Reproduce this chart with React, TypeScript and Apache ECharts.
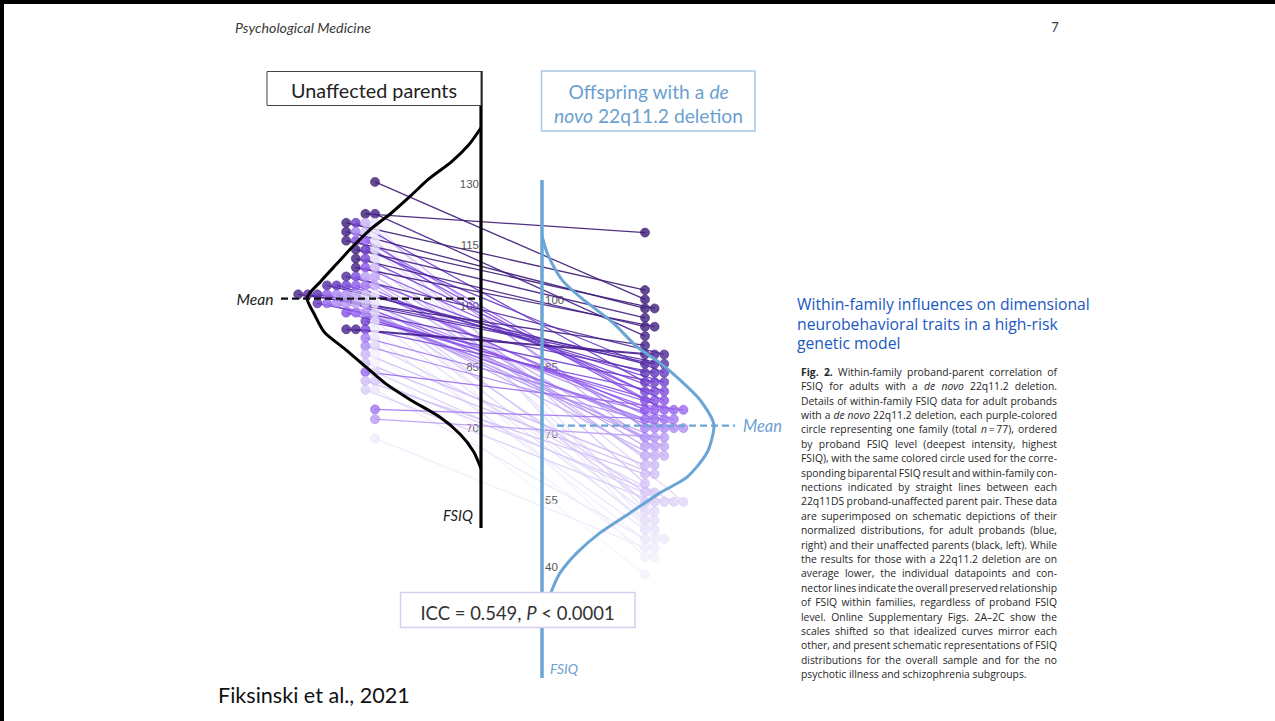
import React, { useEffect, useRef } from "react";
import * as echarts from "echarts";

// ---------------- Data ----------------
// One entry per family (n = 77), ordered by proband FSIQ, highest first.
const probandFsiq = [
  117.0,
  103.5,
  101.3,
  99.2, 99.2,
  97.0,
  94.9, 94.9,
  92.7,
  90.5,
  88.4, 88.4, 88.4,
  86.2, 86.2, 86.2,
  84.1, 84.1, 84.1,
  81.9, 81.9, 81.9,
  79.7, 79.7, 79.7,
  77.6, 77.6, 77.6,
  75.4, 75.4, 75.4, 75.4, 75.4,
  73.2, 73.2, 73.2, 73.2,
  71.1, 71.1, 71.1, 71.1, 71.1,
  68.9, 68.9, 68.9,
  66.8, 66.8, 66.8,
  64.6, 64.6, 64.6,
  62.4, 62.4,
  60.3, 60.3,
  58.1,
  56.0, 56.0,
  53.8, 53.8, 53.8, 53.8, 53.8,
  51.6, 51.6,
  49.5, 49.5,
  47.3, 47.3,
  45.1, 45.1, 45.1,
  43.0, 43.0,
  40.8, 40.8,
  36.7,
];

// Biparental FSIQ of the same families, same order.
const parentFsiq = [
  121.4, 119.3, 128.9, 117.2, 115.1, 113.0, 110.9, 108.8, 121.4, 102.5,
  94.3, 94.3, 106.7, 104.6, 102.5, 102.5, 104.6, 100.4, 113.0, 119.3,
  96.2, 104.6, 110.9, 94.3, 106.7, 115.1, 98.2, 108.8, 104.6, 102.5,
  115.1, 100.4, 84.3, 98.2, 104.6, 75.5, 92.3, 117.2, 102.5, 100.4,
  90.4, 102.5, 98.2, 100.4, 73.2, 106.7, 106.7, 102.5, 104.6, 100.4,
  119.3, 88.5, 108.8, 82.2, 86.4, 117.2, 100.4, 82.2, 102.5, 80.1,
  84.3, 90.4, 113.0, 98.2, 110.9, 96.2, 119.3, 92.3, 115.1, 80.1,
  117.2, 100.4, 68.7, 94.3, 102.5, 88.5, 86.4,
];

// Schematic distribution curves: FSIQ level and relative height (peak = 1)
const parentCurveFsiq = [141.6, 137.6, 133.6, 129.6, 125.6, 121.6, 117.6, 113.6, 109.6, 105.6, 101.6, 97.6, 93.6, 89.6, 85.6, 81.6, 77.6, 73.6, 69.6, 65.6, 61.6];
const parentCurveHeight = [0, 0.07, 0.17, 0.3, 0.405, 0.515, 0.64, 0.74, 0.83, 0.92, 1, 0.955, 0.9, 0.78, 0.665, 0.55, 0.4, 0.233, 0.118, 0.043, 0];
const probandCurveFsiq = [116.2, 111.7, 105.9, 101.9, 95.8, 90.2, 86.4, 82.4, 77.7, 71.6, 65.3, 59.6, 55.9, 51.2, 46.5, 41.8, 37.1, 33.1, 28.4];
const probandCurveHeight = [0, 0.035, 0.116, 0.221, 0.413, 0.552, 0.686, 0.802, 0.919, 1, 0.959, 0.843, 0.686, 0.512, 0.337, 0.203, 0.105, 0.058, 0.017];

const parentMean = 101.5;
const probandMean = 71.7;

const parentTicks = [130, 115, 100, 85, 70];
const probandTicks = [100, 85, 70, 55, 40];

const headingLines = [
  "Within-family influences on dimensional",
  "neurobehavioral traits in a high-risk",
  "genetic model",
];

// *bold*, _italic_
const captionLines = [
  "*Fig.* *2.* Within-family proband-parent correlation of",
  "FSIQ for adults with a _de_ _novo_ 22q11.2 deletion.",
  "Details of within-family FSIQ data for adult probands",
  "with a _de_ _novo_ 22q11.2 deletion, each purple-colored",
  "circle representing one family (total _n_\u2009=\u200977), ordered",
  "by proband FSIQ level (deepest intensity, highest",
  "FSIQ), with the same colored circle used for the corre-",
  "sponding biparental FSIQ result and within-family con-",
  "nections indicated by straight lines between each",
  "22q11DS proband-unaffected parent pair. These data",
  "are superimposed on schematic depictions of their",
  "normalized distributions, for adult probands (blue,",
  "right) and their unaffected parents (black, left). While",
  "the results for those with a 22q11.2 deletion are on",
  "average lower, the individual datapoints and con-",
  "nector lines indicate the overall preserved relationship",
  "of FSIQ within families, regardless of proband FSIQ",
  "level. Online Supplementary Figs. 2A\u20132C show the",
  "scales shifted so that idealized curves mirror each",
  "other, and present schematic representations of FSIQ",
  "distributions for the overall sample and for the no",
  "psychotic illness and schizophrenia subgroups.",
];

// ---------------- Layout ----------------
const W = 1275;
const H = 721;
const Y85 = 368.9; // pixel row of FSIQ 85
const PX_PER_PT = 4.26;
const Y_MIN = 3;
const Y_MAX = 165;
const yPx = (v: number) => Y85 - PX_PER_PT * (v - 85);
const fsiqAt = (py: number) => 85 + (Y85 - py) / PX_PER_PT;

const COL_PX = 9.6;
const PARENT_COL = 375;
const PROBAND_COL = 645;
const PARENT_AXIS = 481;
const PROBAND_AXIS = 542;
const col = (px: number) => (px - PARENT_COL) / COL_PX;
const PARENT_CURVE_PX = 174;
const PROBAND_CURVE_PX = 172;

// tick label scales
const yLeft = (v: number) => 184 + (130 - v) * (244 / 60);
const yRight = (v: number) => 300 + (100 - v) * (267 / 60);

const BLUE = "#6aa5d5";
const BLUE_TEXT = "#6c9fd0";
const RAMP = ["#3a1a72", "#45208a", "#6a3acb", "#9158ee", "#a985f2", "#c3a9f5", "#d8cbf7", "#e8e2f9", "#f6f3fc"];

// ---------------- Text helpers ----------------
let measureCtx: CanvasRenderingContext2D | null = null;
function measure(text: string, size: number, family: string, style = "normal", weight = "normal") {
  if (!measureCtx) measureCtx = document.createElement("canvas").getContext("2d");
  measureCtx!.font = `${style} ${weight} ${size}px "${family}"`;
  return measureCtx!.measureText(text).width;
}
const fit = (text: string, family: string, width: number, style = "normal", weight = "normal") =>
  (100 * width) / measure(text, 100, family, style, weight);

type Seg = { t: string; s: "r" | "i" | "b" };
function parseLine(line: string): Seg[][] {
  return line.split(" ").map((word) => {
    const segs: Seg[] = [];
    const re = /_([^_]+)_|\*([^*]+)\*|([^_*]+)/g;
    let m: RegExpExecArray | null;
    while ((m = re.exec(word))) {
      if (m[1]) segs.push({ t: m[1], s: "i" });
      else if (m[2]) segs.push({ t: m[2], s: "b" });
      else segs.push({ t: m[3], s: "r" });
    }
    return segs;
  });
}

function richStyles(size: number, family: string, color: string) {
  const base = { fontSize: size, fontFamily: family, fill: color, color };
  return {
    r: { ...base },
    i: { ...base, fontStyle: "italic" },
    b: { ...base, fontWeight: "bold" },
  };
}

function label(x: number, y: number, text: string, o: any) {
  const align = o.align || "left";
  return {
    type: "text",
    x,
    y,
    z: o.z ?? 50,
    silent: true,
    style: {
      text,
      fill: o.color || "#222",
      fontSize: o.size,
      fontFamily: o.family,
      fontStyle: o.style || "normal",
      fontWeight: o.weight || "normal",
      align,
      textAlign: align,
      verticalAlign: "middle",
      textVerticalAlign: "middle",
      rich: o.rich,
    },
  };
}

function buildGraphic() {
  const g: any[] = [];

  // page frame
  g.push({ type: "line", z: 60, shape: { x1: 0, y1: 2, x2: W, y2: 2 }, style: { stroke: "#000", lineWidth: 4 } });
  g.push({ type: "line", z: 60, shape: { x1: 2, y1: 0, x2: 2, y2: H }, style: { stroke: "#000", lineWidth: 4 } });

  // running header
  const hdr = "Psychological Medicine";
  g.push(label(235, 27, hdr, { size: fit(hdr, "Lato", 136, "italic"), family: "Lato", style: "italic", color: "#3a3a3a" }));
  g.push(label(1055, 27, "7", { size: 13, family: "Lato", color: "#3a3a3a", align: "center" }));

  // panel titles
  g.push({ type: "rect", z: 40, shape: { x: 267, y: 71.5, width: 214, height: 34 }, style: { fill: "#fff", stroke: "#444", lineWidth: 1 } });
  const t1 = "Unaffected parents";
  g.push(label(374, 90, t1, { size: fit(t1, "Lato", 166), family: "Lato", color: "#222", align: "center", z: 41 }));

  g.push({ type: "rect", z: 40, shape: { x: 541.5, y: 71, width: 213.5, height: 60 }, style: { fill: "#fff", stroke: "#a8c8e6", lineWidth: 1.5 } });
  const offSize = fit("novo 22q11.2 deletion", "Lato", 192);
  const offRich = richStyles(offSize, "Lato", BLUE_TEXT);
  g.push(label(648.5, 91.5, "{r|Offspring with a }{i|de}", { size: offSize, family: "Lato", color: BLUE_TEXT, align: "center", rich: offRich, z: 41 }));
  g.push(label(648.5, 115.5, "{i|novo}{r| 22q11.2 deletion}", { size: offSize, family: "Lato", color: BLUE_TEXT, align: "center", rich: offRich, z: 41 }));

  // mean markers and axis names
  g.push(label(255, 299, "Mean", { size: fit("Mean", "Lato", 37, "italic"), family: "Lato", style: "italic", color: "#222", align: "center", z: 45 }));
  g.push(label(762.5, 425.7, "Mean", { size: fit("Mean", "Lato", 39, "italic"), family: "Lato", style: "italic", color: BLUE_TEXT, align: "center", z: 45 }));
  g.push(label(458, 515, "FSIQ", { size: fit("FSIQ", "Lato", 30, "italic"), family: "Lato", style: "italic", color: "#222", align: "center", z: 45 }));
  g.push(label(564, 668, "FSIQ", { size: fit("FSIQ", "Lato", 28, "italic"), family: "Lato", style: "italic", color: BLUE_TEXT, align: "center", z: 45 }));

  // ICC box
  g.push({ type: "rect", z: 100, shape: { x: 400.5, y: 592.5, width: 234.5, height: 35 }, style: { fill: "#fff", stroke: "#d9cdf2", lineWidth: 1.5 } });
  const iccSize = fit("ICC = 0.549, P < 0.0001", "Lato", 195);
  g.push(label(517.5, 612.5, "{r|ICC = 0.549, }{i|P}{r| < 0.0001}", { size: iccSize, family: "Lato", color: "#333", align: "center", rich: richStyles(iccSize, "Lato", "#333"), z: 101 }));

  // heading on the right
  const headFamily = "Open Sans";
  const headSize = fit(headingLines[0], headFamily, 293);
  headingLines.forEach((line, i) => {
    g.push(label(797, 304 + i * 19.7, line, { size: headSize, family: headFamily, color: "#2158c2" }));
  });

  // justified caption
  const capFamily = "Open Sans";
  const capColor = "#262626";
  const capX = 801;
  const capW = 256;
  const capY = 371.7;
  const capDy = 14.41;
  const parsed = captionLines.map(parseLine);
  const segW = (s: Seg, size: number) =>
    measure(s.t, size, capFamily, s.s === "i" ? "italic" : "normal", s.s === "b" ? "bold" : "normal");
  const wordW = (w: Seg[], size: number) => w.reduce((a, s) => a + segW(s, size), 0);
  const space100 = measure(" ", 100, capFamily);
  let capSize = 100;
  parsed.slice(0, -1).forEach((words) => {
    const natural = words.reduce((a, w) => a + wordW(w, 100), 0) + 0.6 * space100 * (words.length - 1);
    capSize = Math.min(capSize, (100 * capW) / natural);
  });
  const capRich = richStyles(capSize, capFamily, capColor);
  parsed.forEach((words, li) => {
    const widths = words.map((w) => wordW(w, capSize));
    const total = widths.reduce((a, b) => a + b, 0);
    const last = li === parsed.length - 1;
    const gap = last || words.length < 2 ? (space100 * capSize) / 100 : (capW - total) / (words.length - 1);
    let x = capX;
    words.forEach((w, wi) => {
      const txt = w.map((s) => `{${s.s}|${s.t}}`).join("");
      g.push(label(x, capY + li * capDy, txt, { size: capSize, family: capFamily, color: capColor, rich: capRich }));
      x += widths[wi] + gap;
    });
  });

  // citation
  const cite = "Fiksinski et al., 2021";
  g.push(label(218, 695, cite, { size: fit(cite, "Lato", 192), family: "Lato", color: "#111" }));

  return g;
}

// ---------------- Chart ----------------
function buildOption() {
  const n = probandFsiq.length;
  const shadeAt = (t: number) => echarts.color.lerp(Math.max(0, Math.min(1, t)), RAMP) as string;
  const shade = (rank: number) => shadeAt(rank / (n - 1));

  // dot-plot stacking: parents stack leftwards (darkest outermost), probands rightwards
  const parentSlot: number[] = new Array(n);
  const probandSlot: number[] = new Array(n);
  const byParent = new Map<number, number[]>();
  const byProband = new Map<number, number[]>();
  for (let i = 0; i < n; i++) {
    if (!byParent.has(parentFsiq[i])) byParent.set(parentFsiq[i], []);
    byParent.get(parentFsiq[i])!.push(i);
    if (!byProband.has(probandFsiq[i])) byProband.set(probandFsiq[i], []);
    byProband.get(probandFsiq[i])!.push(i);
  }
  byParent.forEach((list) => list.sort((a, b) => b - a).forEach((i, k) => (parentSlot[i] = col(PARENT_COL) - k)));
  byProband.forEach((list) => list.sort((a, b) => a - b).forEach((i, k) => (probandSlot[i] = col(PROBAND_COL) + k)));

  const ranks = Array.from({ length: n }, (_, i) => i);
  const dotStyle = (i: number) => ({
    color: shade(i),
    borderColor: shadeAt(i / (n - 1) - 0.08),
    borderWidth: 0.7,
  });

  const familyLines = ranks
    .slice()
    .reverse()
    .map((i) => ({
      coords: [
        [parentSlot[i], parentFsiq[i]],
        [probandSlot[i], probandFsiq[i]],
      ],
      lineStyle: { color: shade(i), width: 1.3, opacity: 0.9 },
    }));

  const tickLabel = {
    color: "#555",
    fontSize: 11.5,
    fontFamily: "Liberation Sans",
  };

  return {
    animation: false,
    backgroundColor: "#fff",
    grid: [
      { left: 0, width: W, top: yPx(Y_MAX), height: yPx(Y_MIN) - yPx(Y_MAX), containLabel: false, outerBoundsMode: "none" },
      { left: PARENT_AXIS, width: 1, top: yLeft(160), height: yLeft(40) - yLeft(160), containLabel: false, outerBoundsMode: "none" },
      { left: PROBAND_AXIS, width: 1, top: yRight(130), height: yRight(20) - yRight(130), containLabel: false, outerBoundsMode: "none" },
    ],
    xAxis: [
      { gridIndex: 0, type: "value", min: col(0), max: col(W), show: false },
      { gridIndex: 1, type: "value", min: 0, max: 1, show: false },
      { gridIndex: 2, type: "value", min: 0, max: 1, show: false },
    ],
    yAxis: [
      { gridIndex: 0, type: "value", min: Y_MIN, max: Y_MAX, show: false },
      {
        gridIndex: 1,
        type: "value",
        min: 40,
        max: 160,
        position: "left",
        z: 0,
        axisLine: { show: false },
        axisTick: { show: false, customValues: parentTicks },
        splitLine: { show: false },
        axisLabel: { ...tickLabel, margin: 2, customValues: parentTicks },
      },
      {
        gridIndex: 2,
        type: "value",
        min: 20,
        max: 130,
        position: "left",
        z: 0,
        axisLine: { show: false },
        axisTick: { show: false, customValues: probandTicks },
        splitLine: { show: false },
        axisLabel: { ...tickLabel, inside: true, margin: 3, customValues: probandTicks },
      },
    ],
    series: [
      {
        name: "within-family connections",
        type: "lines",
        coordinateSystem: "cartesian2d",
        xAxisIndex: 0,
        yAxisIndex: 0,
        z: 2,
        silent: true,
        data: familyLines,
      },
      {
        name: "Unaffected parents",
        type: "scatter",
        xAxisIndex: 0,
        yAxisIndex: 0,
        z: 3,
        symbolSize: 9,
        silent: true,
        data: ranks.map((i) => ({ value: [parentSlot[i], parentFsiq[i]], itemStyle: dotStyle(i) })),
      },
      {
        name: "Probands",
        type: "scatter",
        xAxisIndex: 0,
        yAxisIndex: 0,
        z: 3,
        symbolSize: 9,
        silent: true,
        data: ranks.map((i) => ({ value: [probandSlot[i], probandFsiq[i]], itemStyle: dotStyle(i) })),
      },
      {
        name: "parent distribution",
        type: "line",
        xAxisIndex: 0,
        yAxisIndex: 0,
        z: 4,
        smooth: 0.25,
        symbol: "none",
        silent: true,
        lineStyle: { color: "#000", width: 3 },
        data: parentCurveFsiq.map((v, i) => [col(PARENT_AXIS - PARENT_CURVE_PX * parentCurveHeight[i]), v]),
      },
      {
        name: "proband distribution",
        type: "line",
        xAxisIndex: 0,
        yAxisIndex: 0,
        z: 4,
        smooth: 0.25,
        symbol: "none",
        silent: true,
        lineStyle: { color: BLUE, width: 3 },
        data: probandCurveFsiq.map((v, i) => [col(PROBAND_AXIS + PROBAND_CURVE_PX * probandCurveHeight[i]), v]),
      },
      {
        name: "parent axis",
        type: "line",
        xAxisIndex: 0,
        yAxisIndex: 0,
        z: 5,
        symbol: "none",
        silent: true,
        lineStyle: { color: "#000", width: 3.2 },
        data: [
          [col(PARENT_AXIS), fsiqAt(71)],
          [col(PARENT_AXIS), fsiqAt(528)],
        ],
      },
      {
        name: "proband axis",
        type: "line",
        xAxisIndex: 0,
        yAxisIndex: 0,
        z: 5,
        symbol: "none",
        silent: true,
        lineStyle: { color: BLUE, width: 3.5 },
        data: [
          [col(PROBAND_AXIS), fsiqAt(180)],
          [col(PROBAND_AXIS), fsiqAt(678)],
        ],
      },
      {
        name: "parent mean",
        type: "line",
        xAxisIndex: 0,
        yAxisIndex: 0,
        z: 6,
        symbol: "none",
        silent: true,
        lineStyle: { color: "#111", width: 2.2, type: [7, 4] },
        data: [
          [col(281), parentMean],
          [col(PARENT_AXIS), parentMean],
        ],
      },
      {
        name: "proband mean",
        type: "line",
        xAxisIndex: 0,
        yAxisIndex: 0,
        z: 6,
        symbol: "none",
        silent: true,
        lineStyle: { color: BLUE, width: 2.2, type: [7, 4] },
        data: [
          [col(557), probandMean],
          [col(735), probandMean],
        ],
      },
    ],
    graphic: { elements: buildGraphic() },
  };
}

export default function App() {
  const ref = useRef<HTMLDivElement>(null);
  useEffect(() => {
    if (!ref.current) return;
    const chart = echarts.init(ref.current, undefined, { renderer: "svg" });
    chart.setOption(buildOption() as any);
    return () => chart.dispose();
  }, []);
  return (
    <div
      ref={ref}
      style={{ position: "fixed", left: 0, top: 0, width: W, height: H, background: "#fff" }}
    />
  );
}
